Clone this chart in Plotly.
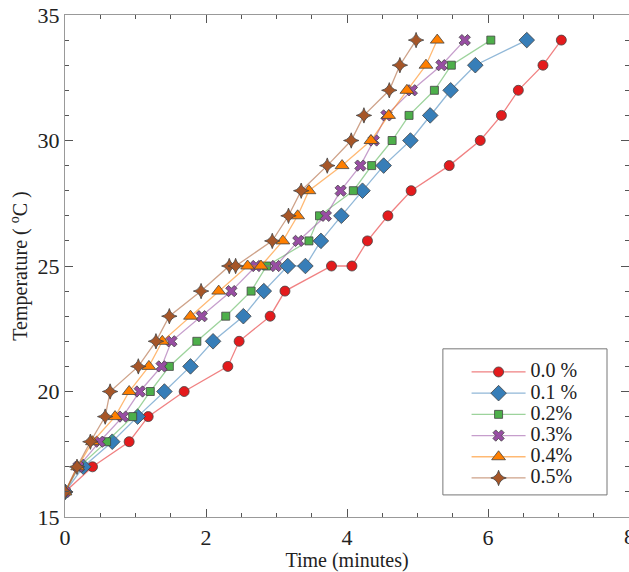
import plotly.graph_objects as go

temps = [16, 17, 18, 19, 20, 21, 22, 23, 24, 25, 25, 26, 27, 28, 29, 30, 31, 32, 33, 34]
temps_g = [16, 17, 18, 19, 20, 21, 22, 23, 24, 25, 26, 27, 28, 29, 30, 31, 32, 33, 34]

t_00 = [0, 0.39, 0.91, 1.18, 1.69, 2.31, 2.47, 2.91, 3.12, 3.78, 4.07, 4.29, 4.58, 4.91, 5.45, 5.89, 6.19, 6.43, 6.78, 7.04]
t_01 = [0, 0.26, 0.67, 1.03, 1.41, 1.78, 2.10, 2.53, 2.82, 3.16, 3.41, 3.63, 3.92, 4.22, 4.52, 4.90, 5.18, 5.47, 5.82, 6.55]
t_02 = [0, 0.20, 0.59, 0.96, 1.21, 1.48, 1.87, 2.28, 2.64, 2.86, 3.46, 3.61, 4.09, 4.35, 4.64, 4.88, 5.24, 5.48, 6.04]
t_03 = [0, 0.19, 0.49, 0.82, 1.06, 1.37, 1.51, 1.94, 2.36, 2.71, 2.99, 3.31, 3.70, 3.91, 4.19, 4.38, 4.56, 4.92, 5.34, 5.67]
t_04 = [0, 0.18, 0.39, 0.71, 0.91, 1.19, 1.38, 1.78, 2.18, 2.59, 2.78, 3.09, 3.30, 3.46, 3.93, 4.34, 4.59, 4.85, 5.12, 5.28]
t_05 = [0, 0.17, 0.36, 0.57, 0.64, 1.04, 1.29, 1.48, 1.93, 2.33, 2.42, 2.94, 3.17, 3.35, 3.72, 4.06, 4.24, 4.60, 4.75, 4.98]

names = ["0.0 %", "0.1 %", "0.2%", "0.3%", "0.4%", "0.5%"]
series_x = [t_00, t_01, t_02, t_03, t_04, t_05]
series_y = [temps, temps, temps_g, temps, temps, temps]
colors = ["#e41a1c", "#377eb8", "#4daf4a", "#984ea3", "#ff7f00", "#a65628"]
line_colors = ["rgba(228,26,28,0.55)", "rgba(55,126,184,0.55)", "rgba(77,175,74,0.55)",
               "rgba(152,78,163,0.55)", "rgba(255,127,0,0.55)", "rgba(166,86,40,0.55)"]
symbols = ["circle", "diamond", "square", "x", "triangle-up", "star-diamond"]
sizes = [10, 12, 8, 10, 12, 11]

x_range = [0, 8]
edge_tick = 8

fig = go.Figure()
for x, y, n, c, lc, s, sz in zip(series_x, series_y, names, colors, line_colors, symbols, sizes):
    fig.add_trace(go.Scatter(
        x=x, y=y, name='<span style="font-size:20px">' + n + '</span>',
        mode="lines+markers",
        line=dict(color=lc, width=1.3),
        marker=dict(symbol=s, size=sz, color=c, line=dict(color="#444", width=0.8)),
    ))

tick_font = dict(family="Liberation Serif", size=22, color="#222")
axis_common = dict(
    showline=True, linecolor="#999", linewidth=1.2, mirror="allticks",
    ticks="inside", tickcolor="#555", showgrid=False, zeroline=False,
    tickfont=tick_font,
)

fig.update_xaxes(range=x_range, dtick=2, ticklen=8,
                 minor=dict(ticks="inside", dtick=0.5, ticklen=4, tickcolor="#555"),
                 title=dict(text="Time (minutes)", font=dict(family="Liberation Serif", size=20, color="#222"), standoff=2),
                 **axis_common)
fig.update_yaxes(range=[15, 35], dtick=5, ticklen=8,
                 minor=dict(ticks="inside", dtick=1, ticklen=4, tickcolor="#555"),
                 title=dict(text="Temperature ( <sup>o</sup>C )", font=dict(family="Liberation Serif", size=20, color="#222"), standoff=4),
                 **axis_common)

# edge tick label that plotly hides because it overflows the page
fig.add_annotation(x=edge_tick, xref="x", y=0, yref="paper", yanchor="top", yshift=-5,
                   text=str(edge_tick), showarrow=False, font=tick_font)

# legend frame
fig.add_shape(type="rect", xref="paper", yref="paper",
              x0=0.670, x1=0.961, y0=0.044, y1=0.335,
              line=dict(color="#777", width=1), fillcolor="white", layer="below")

fig.update_layout(
    width=629, height=572,
    margin=dict(l=65, r=0, t=15, b=55),
    plot_bgcolor="white", paper_bgcolor="white",
    legend=dict(x=0.712, y=0.320, xanchor="left", yanchor="top",
                borderwidth=0, bgcolor="rgba(0,0,0,0)",
                font=dict(family="Liberation Serif", size=14, color="#222"),
                itemsizing="trace", tracegroupgap=0, indentation=0, itemwidth=54),
    showlegend=True,
)

fig.write_html("out.html")
